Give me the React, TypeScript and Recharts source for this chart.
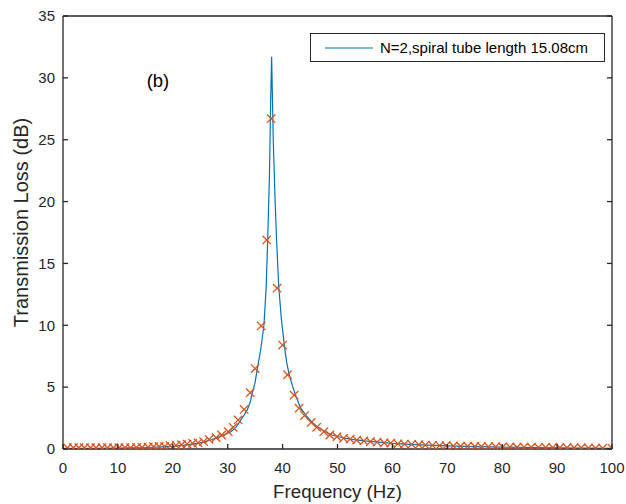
import React from "react";
import {
  ComposedChart,
  Line,
  Scatter,
  XAxis,
  YAxis,
  Legend,
  Label,
  ReferenceDot,
} from "recharts";

// ---- data ----
const xTicks = [0, 10, 20, 30, 40, 50, 60, 70, 80, 90, 100];
const yTicks = [0, 5, 10, 15, 20, 25, 30, 35];

const lineFreq = [
  0, 5, 10, 15, 20, 23, 25, 27, 28, 29, 30, 30.6, 31.5, 32.4, 33.0, 33.6, 34.1,
  34.5, 35.0, 35.4, 36.0, 36.6, 37.0, 37.28, 37.6, 37.83, 38.0, 38.3, 38.6,
  38.9, 39.3, 39.8, 40.3, 40.7, 41.2, 41.8, 42.4, 43.3, 44.3, 45.4, 46.5, 47.7,
  49.0, 50.2, 51.5, 53, 55, 57.5, 60, 65, 70, 75, 80, 85, 90, 95, 100,
];
const lineTL = [
  0.05, 0.06, 0.08, 0.12, 0.22, 0.35, 0.5, 0.75, 0.9, 1.08, 1.28, 1.4, 1.75,
  2.35, 2.75, 3.2, 3.8, 4.55, 5.4, 6.5, 8.0, 10.0, 13.0, 16.9, 22.0, 28.2, 31.7,
  25.0, 20.5, 16.9, 13.1, 10.4, 8.46, 7.1, 6.0, 5.1, 4.3, 3.3, 2.7, 2.15, 1.75,
  1.4, 1.13, 0.99, 0.86, 0.76, 0.65, 0.55, 0.45, 0.33, 0.25, 0.2, 0.15, 0.12,
  0.1, 0.08, 0.06,
];

const markFreq = [
  0.8, 1.9, 2.9, 3.9, 5.0, 6.0, 7.1, 8.1, 9.2, 10.2, 11.3, 12.3, 13.4, 14.4,
  15.5, 16.5, 17.5, 18.5, 19.5, 20.6, 21.6, 22.6, 23.6, 24.6, 25.6, 26.6, 27.9,
  28.9, 30.1, 31.0, 31.9, 33.0, 34.1, 35.0, 36.1, 37.1, 37.9, 39.0, 40.0, 40.9,
  42.1, 43.0, 44.0, 45.2, 46.2, 47.5, 48.6, 49.9, 51.1, 52.3, 53.5, 54.8, 56.0,
  57.2, 58.5, 59.7, 61.0, 62.2, 63.5, 64.8, 66.0, 67.3, 68.6, 69.8, 71.1, 72.4,
  73.7, 75.0, 76.2, 77.5, 78.8, 80.1, 81.4, 82.7, 84.0, 85.3, 86.6, 87.9, 89.2,
  90.5, 91.8, 93.1, 94.4, 95.7, 97.0, 98.3, 100,
];
const markTL = [
  0.1, 0.1, 0.1, 0.1, 0.1, 0.1, 0.1, 0.1, 0.1, 0.1, 0.1, 0.1, 0.12, 0.12, 0.15,
  0.18, 0.2, 0.2, 0.28, 0.3, 0.35, 0.4, 0.45, 0.5, 0.6, 0.78, 0.92, 1.13, 1.4,
  1.75, 2.35, 3.2, 4.55, 6.5, 9.95, 16.9, 26.7, 13.0, 8.4, 6.0, 4.35, 3.3, 2.7,
  2.15, 1.75, 1.4, 1.13, 0.99, 0.86, 0.8, 0.72, 0.65, 0.6, 0.55, 0.5, 0.48,
  0.42, 0.4, 0.38, 0.35, 0.32, 0.3, 0.28, 0.27, 0.25, 0.23, 0.22, 0.2, 0.2,
  0.18, 0.18, 0.17, 0.16, 0.15, 0.15, 0.14, 0.13, 0.13, 0.12, 0.12, 0.11, 0.1,
  0.1, 0.08, 0.07, 0.06, 0.05,
];

const seriesName = "N=2,spiral tube length 15.08cm";
const xTitle = "Frequency (Hz)";
const yTitle = "Transmission Loss (dB)";
const panelTag = "(b)";
const panelPos = { f: 17.3, tl: 29.3 };

const lineData = lineFreq.map((f, i) => ({ f, tl: lineTL[i] }));
const markData = markFreq.map((f, i) => ({ f, tl: markTL[i] }));

// ---- styles ----
const FONT = "'Liberation Sans', Arial, Helvetica, sans-serif";
const AXIS = "#262626";
const BLUE = "#0072BD";
const ORANGE = "#D95319";
const TICK_LEN = 5;
const X_MARGIN = 13;
const Y_MARGIN = 8;
const TICK_FONT = 15;

const BottomTick = (props: any) => {
  const { x, y, payload } = props;
  const axisY = y - X_MARGIN;
  return (
    <g>
      <line x1={x} y1={axisY} x2={x} y2={axisY - TICK_LEN} stroke={AXIS} strokeWidth={1.3} />
      <text x={x} y={y} dy="0.71em" textAnchor="middle" fontFamily={FONT} fontSize={TICK_FONT} fill={AXIS}>
        {payload.value}
      </text>
    </g>
  );
};

const LeftTick = (props: any) => {
  const { x, y, payload } = props;
  const axisX = x + Y_MARGIN;
  return (
    <g>
      <line x1={axisX} y1={y} x2={axisX + TICK_LEN} y2={y} stroke={AXIS} strokeWidth={1.3} />
      <text x={x} y={y} dy="0.355em" textAnchor="end" fontFamily={FONT} fontSize={TICK_FONT} fill={AXIS}>
        {payload.value}
      </text>
    </g>
  );
};

const TopTick = (props: any) => {
  const { x, y } = props;
  return <line x1={x} y1={y} x2={x} y2={y + TICK_LEN} stroke={AXIS} strokeWidth={1.3} />;
};

const RightTick = (props: any) => {
  const { x, y } = props;
  return <line x1={x} y1={y} x2={x - TICK_LEN} y2={y} stroke={AXIS} strokeWidth={1.3} />;
};

const XMark = (props: any) => {
  const { cx, cy } = props;
  if (cx == null || cy == null) return <g />;
  const s = 4.2;
  return (
    <g stroke={ORANGE} strokeWidth={1.3}>
      <line x1={cx - s} y1={cy - s} x2={cx + s} y2={cy + s} />
      <line x1={cx - s} y1={cy + s} x2={cx + s} y2={cy - s} />
    </g>
  );
};

const LegendBox = () => (
  <div
    style={{
      width: 293,
      height: 27,
      border: `1px solid ${AXIS}`,
      background: "#fff",
      display: "flex",
      alignItems: "center",
      fontFamily: FONT,
      fontSize: 15,
      color: "#000",
      boxSizing: "content-box",
    }}
  >
    <svg width={62} height={10} style={{ marginLeft: 14 }}>
      <line x1={0} y1={5} x2={48} y2={5} stroke={BLUE} strokeWidth={1.2} />
    </svg>
    <span style={{ marginLeft: -7, whiteSpace: "nowrap" }}>{seriesName}</span>
  </div>
);

const XTitle = (props: any) => {
  const vb = props.viewBox;
  return (
    <text x={vb.x + vb.width / 2} y={vb.y + 49} textAnchor="middle" fontFamily={FONT} fontSize={18.7} fill={AXIS}>
      {xTitle}
    </text>
  );
};

const YTitle = (props: any) => {
  const vb = props.viewBox;
  const x = vb.x + 9.5;
  const y = vb.y + vb.height / 2 - 10;
  return (
    <text
      x={x}
      y={y}
      transform={`rotate(-90, ${x}, ${y})`}
      textAnchor="middle"
      fontFamily={FONT}
      fontSize={20}
      fill={AXIS}
    >
      {yTitle}
    </text>
  );
};

const TagLabel = (props: any) => {
  const vb = props.viewBox;
  return (
    <text x={vb.x} y={vb.y} textAnchor="middle" fontFamily={FONT} fontSize={18.5} fill="#000">
      {panelTag}
    </text>
  );
};

export default function App() {
  const axisLine = { stroke: AXIS, strokeWidth: 1.3 };
  return (
    <div style={{ position: "absolute", left: 0, top: 0, width: 626, height: 504, background: "#fff" }}>
      <ComposedChart width={626} height={504} margin={{ top: 15, right: 13, bottom: 5, left: 18 }}>
        <XAxis
          xAxisId="b"
          type="number"
          dataKey="f"
          domain={[0, 100]}
          ticks={xTicks}
          allowDataOverflow
          orientation="bottom"
          height={50}
          tickSize={0}
          tickMargin={X_MARGIN}
          tickLine={false}
          tick={<BottomTick />}
          axisLine={axisLine}
          interval={0}
          label={<Label content={<XTitle />} />}
        />
        <XAxis
          xAxisId="t"
          type="number"
          domain={[0, 100]}
          ticks={xTicks}
          allowDataOverflow
          orientation="top"
          height={1}
          tickSize={0}
          tickMargin={0}
          tickLine={false}
          tick={<TopTick />}
          interval={0}
          axisLine={axisLine}
        />
        <YAxis
          yAxisId="l"
          type="number"
          dataKey="tl"
          domain={[0, 35]}
          ticks={yTicks}
          allowDataOverflow
          width={45}
          tickSize={0}
          tickMargin={Y_MARGIN}
          tickLine={false}
          tick={<LeftTick />}
          interval={0}
          axisLine={axisLine}
          label={<Label content={<YTitle />} />}
        />
        <YAxis
          yAxisId="r"
          type="number"
          orientation="right"
          domain={[0, 35]}
          ticks={yTicks}
          allowDataOverflow
          width={1}
          tickSize={0}
          tickMargin={0}
          tickLine={false}
          tick={<RightTick />}
          interval={0}
          axisLine={axisLine}
        />
        <Line
          xAxisId="b"
          yAxisId="l"
          data={lineData}
          dataKey="tl"
          type="linear"
          stroke={BLUE}
          strokeWidth={1.2}
          dot={false}
          activeDot={false}
          isAnimationActive={false}
          name={seriesName}
        />
        <Scatter
          xAxisId="b"
          yAxisId="l"
          data={markData}
          dataKey="tl"
          shape={<XMark />}
          isAnimationActive={false}
          legendType="none"
        />
        <ReferenceDot
          xAxisId="b"
          yAxisId="l"
          x={panelPos.f}
          y={panelPos.tl}
          r={0}
          fill="none"
          stroke="none"
          label={<Label content={<TagLabel />} />}
        />
        <Legend
          layout="vertical"
          align="center"
          verticalAlign="middle"
          content={<LegendBox />}
          wrapperStyle={{ top: 33, left: 310, width: 295 }}
        />
      </ComposedChart>
    </div>
  );
}
